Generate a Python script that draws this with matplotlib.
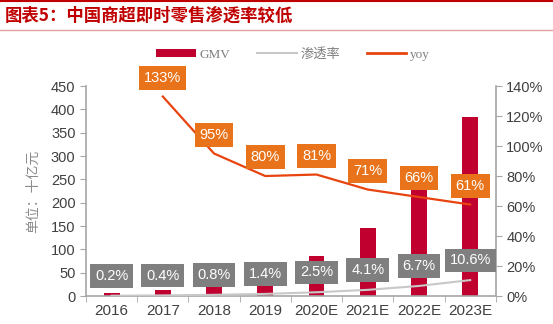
import matplotlib
matplotlib.use("Agg")
import matplotlib.pyplot as plt
from matplotlib.lines import Line2D
from matplotlib.patches import Patch

plt.rcParams['font.family'] = ['Liberation Sans', 'Noto Sans CJK SC', 'DejaVu Sans']

# data
years = ['2016', '2017', '2018', '2019', '2020E', '2021E', '2022E', '2023E']
gmv = [5.7, 13.3, 26.0, 46.8, 84.7, 144.8, 240.0, 384.0]
penetration = [0.2, 0.4, 0.8, 1.4, 2.5, 4.1, 6.7, 10.6]
pen_labels = ['0.2%', '0.4%', '0.8%', '1.4%', '2.5%', '4.1%', '6.7%', '10.6%']
yoy = [None, 133, 95, 80, 81, 71, 66, 61]
yoy_labels = ['', '133%', '95%', '80%', '81%', '71%', '66%', '61%']

bar_color = '#C0002F'
yoy_color = '#E8440F'
box_orange = '#E8731A'
box_gray = '#7F7F7F'
pen_color = '#C8C8C8'
axis_gray = '#A6A6A6'
text_gray = '#404040'

fig = plt.figure(figsize=(5.53, 3.24), dpi=100)
ax = fig.add_axes([0.1555, 0.0864, 0.741, 0.648])
ax2 = ax.twinx()

x = list(range(len(years)))
ax.bar(x, gmv, width=0.31, color=bar_color, zorder=2)
ax.set_xlim(-0.5, len(years) - 0.5)
ax.set_ylim(0, 450)
ax.set_yticks(range(0, 451, 50))
ax.set_xticks(x)
ax.set_xticklabels(years)
ax.set_xticks([i + 0.5 for i in range(-1, len(years))], minor=True)

ax2.set_ylim(0, 140)
ax2.set_yticks(range(0, 141, 20))
ax2.set_yticklabels([f'{v}%' for v in range(0, 141, 20)])

# penetration line + gray boxes
ax2.plot(x, penetration, color=pen_color, lw=1.5, zorder=3)
for i, (v, lab) in enumerate(zip(penetration, pen_labels)):
    ax2.text(i, v + 13.2, lab, ha='center', va='center', color='white', fontsize=10.5,
             bbox=dict(boxstyle='square,pad=0.33', fc=box_gray, ec='none'), zorder=5)

# yoy line + orange boxes
xs = [i for i, v in enumerate(yoy) if v is not None]
ys = [v for v in yoy if v is not None]
ax2.plot(xs, ys, color=yoy_color, lw=1.6, zorder=4)
for i, v in zip(xs, ys):
    ax2.text(i, v + 12.5, yoy_labels[i], ha='center', va='center', color='white', fontsize=10.5,
             bbox=dict(boxstyle='square,pad=0.33', fc=box_orange, ec='none'), zorder=5)

for a in (ax, ax2):
    a.spines['top'].set_visible(False)
    for s in ('left', 'right', 'bottom'):
        a.spines[s].set_color(axis_gray)
        a.spines[s].set_linewidth(1.2)
    a.tick_params(colors=axis_gray, labelcolor=text_gray, labelsize=10.5, length=4)
ax.spines['right'].set_visible(False)
ax2.spines['left'].set_visible(False)
ax2.spines['bottom'].set_visible(False)
ax.tick_params(axis='x', which='major', length=0, pad=6, labelsize=11)
ax.tick_params(axis='x', which='minor', length=4, color=axis_gray)

ax.set_ylabel('单位：十亿元', family=['Noto Sans CJK SC'], color='#8C8C8C', fontsize=10, labelpad=8)

# legend
handles = [Patch(fc=bar_color, ec='none'),
           Line2D([], [], color=pen_color, lw=1.5),
           Line2D([], [], color=yoy_color, lw=2)]
leg = fig.legend(handles, ['GMV', '渗透率', 'yoy'], loc='center', bbox_to_anchor=(0.53, 0.833),
                 ncol=3, frameon=False, handlelength=3.0, handleheight=0.55, columnspacing=2.0,
                 handletextpad=0.3, prop={'family': ['Liberation Serif', 'Noto Sans CJK SC'], 'size': 9.5})
for t in leg.get_texts():
    t.set_color('#7F7F7F')

# title and rules
fig.text(0.008, 0.952, '图表5：中国商超即时零售渗透率较低', family=['Noto Sans CJK SC'], fontsize=12.5,
         fontweight='bold', color='#C00000', va='center', ha='left')
fig.add_artist(Line2D([0, 1], [0.997, 0.997], color='#C00000', lw=1.5))
fig.add_artist(Line2D([0, 1], [0.907, 0.907], color='#E0A0A0', lw=1.0))

fig.savefig('out.png', dpi=100)
